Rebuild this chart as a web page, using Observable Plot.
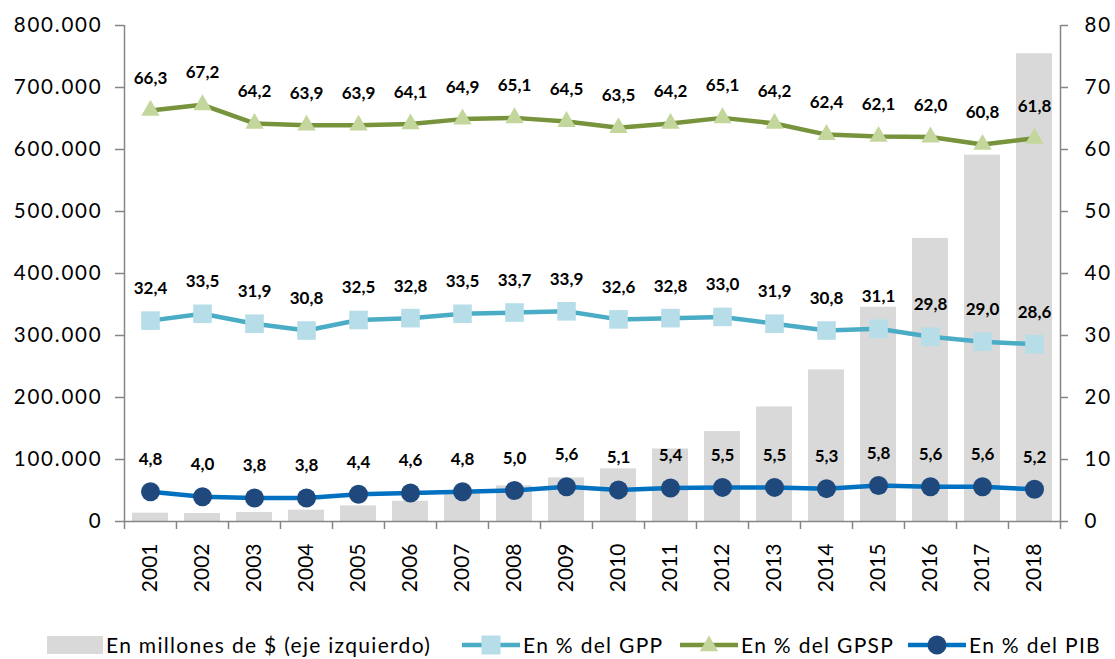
<!DOCTYPE html>
<html>
<head>
<meta charset="utf-8">
<script src="https://cdn.jsdelivr.net/npm/d3@7"></script>
<script src="https://cdn.jsdelivr.net/npm/@observablehq/plot@0.6"></script>
<style>
  html, body { margin: 0; padding: 0; background: #fff; }
  #wrap { position: relative; width: 1115px; height: 659px; font-family: Lato, "Open Sans", sans-serif; overflow: hidden; }
  #legend { position: absolute; left: 0; top: 634px; width: 1115px; height: 24px; font-size: 21px; line-height: 22px; color: #000; white-space: nowrap; letter-spacing: 1.3px; }
  #legend .item { position: absolute; top: 0; display: flex; align-items: center; }
  #legend svg { margin-right: 3px; }
  svg [aria-label="y-axis tick label"] text { letter-spacing: 1.8px; }
</style>
</head>
<body>
<div id="wrap">
  <div id="chart"></div>
  <div id="legend"></div>
</div>
<script>
const years = ["2001","2002","2003","2004","2005","2006","2007","2008","2009","2010","2011","2012","2013","2014","2015","2016","2017","2018"];
const millones = [13400, 12900, 14500, 18200, 25200, 32700, 46000, 57400, 70300, 84900, 117000, 145000, 184700, 244500, 345500, 456600, 590900, 754400];
const pctGPP  = [32.4, 33.5, 31.9, 30.8, 32.5, 32.8, 33.5, 33.7, 33.9, 32.6, 32.8, 33.0, 31.9, 30.8, 31.1, 29.8, 29.0, 28.6];
const pctGPSP = [66.3, 67.2, 64.2, 63.9, 63.9, 64.1, 64.9, 65.1, 64.5, 63.5, 64.2, 65.1, 64.2, 62.4, 62.1, 62.0, 60.8, 61.8];
const pctPIB  = [4.8, 4.0, 3.8, 3.8, 4.4, 4.6, 4.8, 5.0, 5.6, 5.1, 5.4, 5.5, 5.5, 5.3, 5.8, 5.6, 5.6, 5.2];
const leftTicks = [0, 100000, 200000, 300000, 400000, 500000, 600000, 700000, 800000];
const rightTicks = [0, 10, 20, 30, 40, 50, 60, 70, 80];
const seriesNames = ["En millones de $ (eje izquierdo)", "En % del GPP", "En % del GPSP", "En % del PIB"];

const RATIO = 10000; // right axis (%) mapped to left axis units
const W = 1115, H = 610, mL = 124, mR = 55, mT = 25, mB = 89;
const plotH = H - mT - mB;
const perPx = 800000 / plotH;
const step = (W - mL - mR) / years.length;

const loc = d3.formatLocale({decimal: ",", thousands: ".", grouping: [3], currency: ["$", ""]});
const fmtLeft = loc.format(",.0f");
const fmtPct = loc.format(".1f");

const bars = years.map((y, i) => ({year: y, value: millones[i]}));
const mk = (arr) => years.map((y, i) => ({year: y, pct: arr[i], v: arr[i] * RATIO}));
const gpp = mk(pctGPP), gpsp = mk(pctGPSP), pib = mk(pctPIB);

const C = {
  bar: "#d9d9d9", axis: "#868686",
  gppLine: "#4bacc6", gppFill: "#b7dee8",
  gpspLine: "#77933c", gpspFill: "#c3d69b",
  pibLine: "#0070c0", pibFill: "#1f497d"
};

const labelOpts = {x: "year", y: "v", text: d => fmtPct(d.pct), dy: -32, fontSize: 17, fontWeight: "bold", fill: "#000"};

const chart = Plot.plot({
  width: W, height: H,
  marginLeft: mL, marginRight: mR, marginTop: mT, marginBottom: mB,
  style: {fontFamily: "Lato, 'Open Sans', sans-serif", fontSize: "21px", color: "#000", background: "#fff"},
  x: {type: "band", domain: years, paddingInner: 0.31, paddingOuter: 0.155, axis: null},
  y: {domain: [0, 800000], axis: null},
  marks: [
    Plot.barY(bars, {x: "year", y: "value", fill: C.bar}),
    // axes lines
    Plot.ruleY([0], {stroke: C.axis, strokeWidth: 1.5}),
    Plot.ruleX([years[0]], {dx: -step / 2, y1: 0, y2: 800000, stroke: C.axis, strokeWidth: 1.5}),
    Plot.ruleX([years[years.length - 1]], {dx: step / 2, y1: 0, y2: 800000, stroke: C.axis, strokeWidth: 1.5}),
    // category boundary ticks
    Plot.ruleX(years, {x: d => d, dx: step / 2, y1: 0, y2: -8 * perPx, stroke: C.axis, strokeWidth: 1.5}),
    Plot.ruleX([years[0]], {dx: -step / 2, y1: 0, y2: -8 * perPx, stroke: C.axis, strokeWidth: 1.5}),
    Plot.axisX({tickSize: 0, tickPadding: 22, tickRotate: -90, fontSize: 21, fill: "#000", label: null}),
    Plot.axisY(leftTicks, {anchor: "left", tickSize: 9, tickPadding: 13, stroke: C.axis, strokeWidth: 1.5, tickFormat: fmtLeft, fontSize: 20.5, fill: "#000", label: null}),
    Plot.axisY(rightTicks.map(v => v * RATIO), {anchor: "right", tickSize: 7, tickPadding: 17, stroke: C.axis, strokeWidth: 1.5, tickFormat: d => String(d / RATIO), fontSize: 20.5, fill: "#000", label: null}),
    // GPSP
    Plot.line(gpsp, {x: "year", y: "v", stroke: C.gpspLine, strokeWidth: 4.5}),
    Plot.dot(gpsp, {x: "year", y: "v", symbol: "triangle", r: 6.8, fill: C.gpspFill, stroke: "none"}),
    Plot.text(gpsp, labelOpts),
    // GPP
    Plot.line(gpp, {x: "year", y: "v", stroke: C.gppLine, strokeWidth: 4.5}),
    Plot.dot(gpp, {x: "year", y: "v", symbol: "square", r: 10.5, fill: C.gppFill, stroke: "none"}),
    Plot.text(gpp, labelOpts),
    // PIB
    Plot.line(pib, {x: "year", y: "v", stroke: C.pibLine, strokeWidth: 4.5}),
    Plot.dot(pib, {x: "year", y: "v", r: 9.5, fill: C.pibFill, stroke: "none"}),
    Plot.text(pib, labelOpts)
  ]
});
document.getElementById("chart").appendChild(chart);

// Legend
const legend = document.getElementById("legend");
const itemLeft = [47, 462, 680, 908];
const swatches = [
  `<svg width="56" height="22"><rect x="0" y="2" width="56" height="18" fill="${C.bar}"/></svg>`,
  `<svg width="58" height="22"><line x1="0" y1="11" x2="58" y2="11" stroke="${C.gppLine}" stroke-width="4.5"/><rect x="19.5" y="1.5" width="19" height="19" fill="${C.gppFill}"/></svg>`,
  `<svg width="58" height="22"><line x1="0" y1="11" x2="58" y2="11" stroke="${C.gpspLine}" stroke-width="4.5"/><path d="${d3.symbol(d3.symbolTriangle, Math.PI * 6.8 * 6.8)()}" transform="translate(29,12)" fill="${C.gpspFill}"/></svg>`,
  `<svg width="58" height="22"><line x1="0" y1="11" x2="58" y2="11" stroke="${C.pibLine}" stroke-width="4.5"/><circle cx="29" cy="11" r="9.5" fill="${C.pibFill}"/></svg>`
];
seriesNames.forEach((name, i) => {
  const item = document.createElement("div");
  item.className = "item";
  item.style.left = itemLeft[i] + "px";
  item.innerHTML = swatches[i] + `<span>${name.replace(/\$/g, "&#36;")}</span>`;
  legend.appendChild(item);
});
</script>
</body>
</html>
